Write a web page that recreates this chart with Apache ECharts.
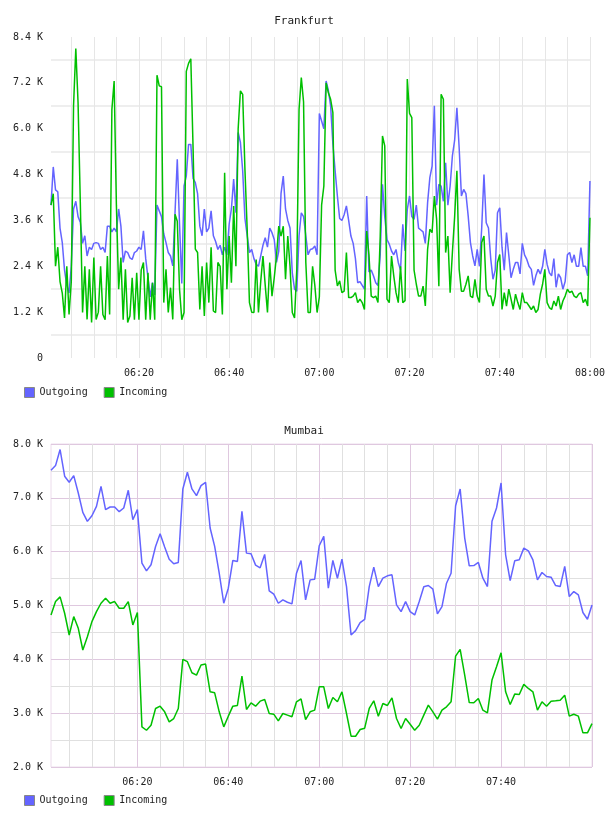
<!DOCTYPE html>
<html>
<head>
<meta charset="utf-8">
<script src="https://cdn.jsdelivr.net/npm/echarts@6/dist/echarts.min.js"></script>
<style>
  html, body { margin: 0; background: #fff; }
  #canvas { width: 608px; height: 816px; }
</style>
</head>
<body>
<div id="canvas"></div>
<script>
/* eslint-disable no-undef */
// Frankfurt: one sample every 30 s, 06:00:30 .. 08:00
const fraOutgoing = [
  4000, 5000, 4400, 4350, 3400, 3020, 2300, 1900, 1700, 2400, 3900, 4100, 3700, 3550, 3000, 3200, 2670, 2900, 2840, 3000,
  3020, 3000, 2840, 2900, 2760, 3450, 3450, 3300, 3400, 3300, 3900, 3450, 2500, 2800, 2760, 2620, 2580, 2760, 2800, 2900,
  2840, 3330, 2600, 2100, 1600, 1970, 1650, 4000, 3850, 3700, 3250, 3020, 2760, 2670, 2410, 3800, 5200, 3500, 1950, 4500,
  4760, 5590, 5590, 4700, 4590, 4300, 3450, 3200, 3900, 3300, 3400, 3850, 3200, 3050, 2840, 2950, 2700, 2900, 2700, 3500,
  3900, 4680, 3800, 5900, 5640, 4900, 3650, 3200, 2760, 2840, 2600, 2450, 2400, 2670, 2950, 3150, 2900, 3400, 3280, 3100,
  2500, 2800, 4300, 4760, 3900, 3600, 3400, 2230, 1800, 1750, 3200, 3800, 3700, 3200, 2700, 2840, 2860, 2930, 2700, 6400,
  6200, 6000, 7250, 7000, 6600, 5600, 4900, 4240, 3650, 3600, 3750, 3980, 3600, 3190, 3000, 2600, 1970, 2000, 1900, 1800,
  4240, 2250, 2300, 2150, 1970, 1900, 2700, 4545, 3700, 3100, 2980, 2800, 2700, 2840, 2500, 2300, 3500, 2800, 3890, 4240,
  3700, 3630, 4000, 3400, 3350, 3300, 3000, 4060, 4720, 5020, 6600, 4000, 4545, 4500, 4100, 5110, 4000, 4500, 5290, 5700,
  6550, 5500, 4240, 4410, 4300, 3720, 3020, 2670, 2410, 2840, 2400, 3400, 4800, 3540, 3400, 2600, 2060, 2300, 3800, 3930,
  2900, 2300, 3280, 2700, 2100, 2320, 2500, 2500, 2200, 3000, 2700, 2580, 2400, 2320, 1900, 2150, 2320, 2200, 2400, 2840,
  2450, 2230, 2150, 2600, 1850, 2200, 2100, 1800, 2000, 2700, 2760, 2500, 2700, 2400, 2400, 2890, 2400, 2400, 2150, 4630
];
const fraIncoming = [
  4000, 4300, 2400, 2900, 2000, 1700, 1050, 2400, 1140, 2000, 6600, 8100, 6680, 4060, 1190, 2400, 1010, 2320, 930, 2630,
  1010, 1200, 2400, 1140, 1000, 2670, 1140, 6500, 7250, 4000, 1800, 2630, 1000, 2320, 930, 1100, 2100, 1000, 2230, 1000,
  2300, 2500, 1000, 2230, 1000, 1970, 1000, 7400, 7120, 7100, 1450, 2320, 1190, 1840, 1010, 3760, 3580, 1800, 1000, 1190,
  7500, 7710, 7830, 5500, 2850, 2760, 1270, 2400, 1100, 2500, 1450, 2900, 1230, 1190, 2500, 2400, 1140, 4850, 1800, 3190,
  1970, 3980, 2400, 6000, 6990, 6900, 4940, 3370, 1450, 1200, 1190, 2580, 1190, 2000, 2670, 1900, 1190, 2500, 1620, 2100,
  2670, 3450, 3190, 3450, 2060, 3190, 2400, 1190, 1050, 2320, 6500, 7340, 6700, 2500, 1190, 1190, 2400, 1900, 1190, 1600,
  4000, 4500, 7200, 6940, 6770, 6420, 2300, 1885, 2020, 1710, 1750, 2760, 1580, 1580, 1620, 1710, 1450, 1540, 1450, 1270,
  3320, 2700, 1620, 1580, 1620, 1450, 3190, 5810, 5550, 1540, 1450, 2670, 2150, 1710, 1450, 2400, 1450, 1500, 7300, 6400,
  6290, 2300, 1930, 1620, 1620, 1880, 1360, 2840, 3370, 3280, 4240, 3630, 1880, 6900, 6770, 2760, 3190, 1710, 2760, 3700,
  4900, 2320, 1750, 1750, 1930, 2150, 1620, 1580, 2060, 1620, 1450, 3020, 3190, 1800, 1620, 1620, 1360, 1620, 2500, 2710,
  1270, 1710, 1360, 1800, 1540, 1270, 1670, 1450, 1270, 1710, 1450, 1450, 1360, 1270, 1360, 1190, 1270, 1670, 1930, 2320,
  1450, 1320, 1270, 1490, 1360, 1620, 1270, 1490, 1620, 1800, 1710, 1750, 1620, 1580, 1670, 1710, 1450, 1540, 1360, 3670
];

// Mumbai: one sample per minute, 06:01 .. 08:00
const mumOutgoing = [
  7512, 7599, 7897, 7401, 7289, 7413, 7090, 6730, 6563, 6668, 6842, 7214, 6780, 6830, 6830, 6743, 6811, 7140, 6594, 6780,
  5787, 5644, 5756, 6097, 6333, 6085, 5861, 5774, 5799, 7165, 7475, 7165, 7041, 7227, 7289, 6439, 6097, 5600, 5042, 5321,
  5836, 5818, 6749, 5973, 5961, 5750, 5700, 5948, 5272, 5210, 5042, 5104, 5061, 5030, 5600, 5836, 5104, 5476, 5489, 6110,
  6283, 5321, 5836, 5507, 5861, 5352, 4452, 4533, 4682, 4744, 5352, 5712, 5352, 5507, 5551, 5570, 5011, 4887, 5073, 4887,
  4825, 5073, 5350, 5371, 5303, 4843, 4980, 5414, 5600, 6854, 7165, 6252, 5737, 5743, 5799, 5507, 5352, 6563, 6811, 7276,
  5942, 5464, 5830, 5849, 6066, 6016, 5849, 5476, 5613, 5539, 5526, 5371, 5352, 5725, 5166, 5259, 5197, 4870, 4744, 5011
];
const mumIncoming = [
  4825, 5073, 5160, 4856, 4452, 4794, 4576, 4173, 4421, 4701, 4887, 5042, 5135, 5042, 5073, 4949, 4949, 5073, 4639, 4868,
  2745, 2683, 2776, 3087, 3130, 3025, 2838, 2900, 3087, 3999, 3956, 3751, 3707, 3894, 3912, 3397, 3378, 3025, 2745, 2944,
  3130, 3143, 3689, 3068, 3192, 3130, 3223, 3254, 2994, 2981, 2857, 2994, 2963, 2932, 3211, 3267, 2882, 3025, 3056, 3490,
  3490, 3087, 3292, 3211, 3397, 2994, 2572, 2572, 2696, 2721, 3087, 3230, 2944, 3180, 3143, 3285, 2901, 2714, 2901, 2795,
  2683, 2776, 2963, 3149, 3025, 2888, 3056, 3118, 3211, 4061, 4185, 3707, 3198, 3192, 3273, 3056, 3006, 3614, 3863, 4123,
  3397, 3161, 3354, 3347, 3534, 3459, 3397, 3056, 3211, 3130, 3223, 3230, 3242, 3335, 2944, 2981, 2944, 2634, 2634, 2807
];

// minutes after midnight for each sample
const fraTimes = fraOutgoing.map((_, i) => 360 + 0.5 * (i + 1));
const mumTimes = mumOutgoing.map((_, i) => 361 + i);

const pad = (n) => String(n).padStart(2, '0');
const clock = (m) => `${pad(Math.floor(m / 60))}:${pad(Math.floor(m % 60))}:${pad(Math.round((m % 1) * 60))}`;

const FONT = 'DejaVu Sans Mono';
const BLUE = '#6464ff';
const GREEN = '#00c000';
const kLabel = (v) => (v === 0 ? '0' : `${(v / 1000).toFixed(1)} K`);

const chart = echarts.init(document.getElementById('canvas'));

const lineSeries = (name, color, idx, data) => ({
  name,
  type: 'line',
  xAxisIndex: idx,
  yAxisIndex: idx,
  data,
  symbol: 'none',
  lineStyle: { color, width: 1.5 },
  itemStyle: { color },
});

const legendBase = {
  data: ['Outgoing', 'Incoming'],
  left: 24,
  icon: 'rect',
  itemWidth: 10,
  itemHeight: 10,
  itemGap: 16,
  padding: 0,
  itemStyle: { borderColor: '#888', borderWidth: 1 },
  textStyle: { fontFamily: FONT, fontSize: 10, color: '#222' },
};

const option = {
  animation: false,
  color: [BLUE, GREEN],
  title: [
    { text: 'Frankfurt', left: 'center', top: 11, textStyle: { fontFamily: FONT, fontSize: 11, fontWeight: 'normal', color: '#222' } },
    { text: 'Mumbai', left: 'center', top: 421, textStyle: { fontFamily: FONT, fontSize: 11, fontWeight: 'normal', color: '#222' } },
  ],
  legend: [
    { ...legendBase, top: 387 },
    { ...legendBase, top: 795 },
  ],
  grid: [
    { left: 51, top: 37, width: 540, height: 321 },
    { left: 51, top: 444, width: 541, height: 323, show: true, borderColor: '#ecdcec', borderWidth: 1 },
  ],
  xAxis: [
    {
      gridIndex: 0,
      type: 'category',
      boundaryGap: false,
      data: fraTimes.map(clock),
      axisLine: { show: false },
      axisTick: { show: false },
      axisLabel: {
        interval: (i) => fraTimes[i] % 20 === 0,
        formatter: (v) => v.slice(0, 5),
        margin: 10,
        fontFamily: FONT,
        fontSize: 10,
        color: '#222',
      },
      splitLine: {
        show: true,
        interval: (i) => fraTimes[i] % 5 === 0,
        lineStyle: { color: '#e6e6e6', width: 1 },
      },
    },
    {
      gridIndex: 1,
      type: 'category',
      boundaryGap: false,
      data: mumTimes.map(clock),
      axisLine: { show: false },
      axisTick: { show: false },
      axisLabel: {
        interval: (i) => mumTimes[i] % 20 === 0 && mumTimes[i] < 480,
        formatter: (v) => v.slice(0, 5),
        margin: 10,
        fontFamily: FONT,
        fontSize: 10,
        color: '#222',
      },
      splitLine: {
        show: true,
        interval: (i) => mumTimes[i] % 5 === 0,
        // every fourth line (20 min) is a major one
        lineStyle: { color: ['#e0e0e0', '#e0e0e0', '#e0e0e0', '#dfc8df'], width: 1 },
      },
    },
  ],
  yAxis: [
    {
      gridIndex: 0,
      type: 'value',
      min: 0,
      max: 8400,
      interval: 1200,
      axisLine: { show: false },
      axisTick: { show: false },
      axisLabel: { formatter: kLabel, margin: 8, fontFamily: FONT, fontSize: 10, color: '#222' },
      splitLine: { show: false },
      // the horizontal rules sit half way between the labels
      minorTick: { show: false, splitNumber: 2 },
      minorSplitLine: { show: true, lineStyle: { color: '#eeeeee', width: 2 } },
    },
    {
      gridIndex: 1,
      type: 'value',
      min: 2000,
      max: 8000,
      interval: 500,
      axisLine: { show: false },
      axisTick: { show: false },
      axisLabel: {
        formatter: (v) => (v % 1000 === 0 ? kLabel(v) : ''),
        margin: 8,
        fontFamily: FONT,
        fontSize: 10,
        color: '#222',
      },
      splitLine: { show: true, lineStyle: { color: ['#dfc8df', '#e0e0e0'], width: 1 } },
    },
  ],
  series: [
    lineSeries('Outgoing', BLUE, 0, fraOutgoing),
    lineSeries('Incoming', GREEN, 0, fraIncoming),
    lineSeries('Outgoing', BLUE, 1, mumOutgoing),
    lineSeries('Incoming', GREEN, 1, mumIncoming),
  ],
};

chart.setOption(option);

window.onresize = chart.resize;
</script>
</body>
</html>
